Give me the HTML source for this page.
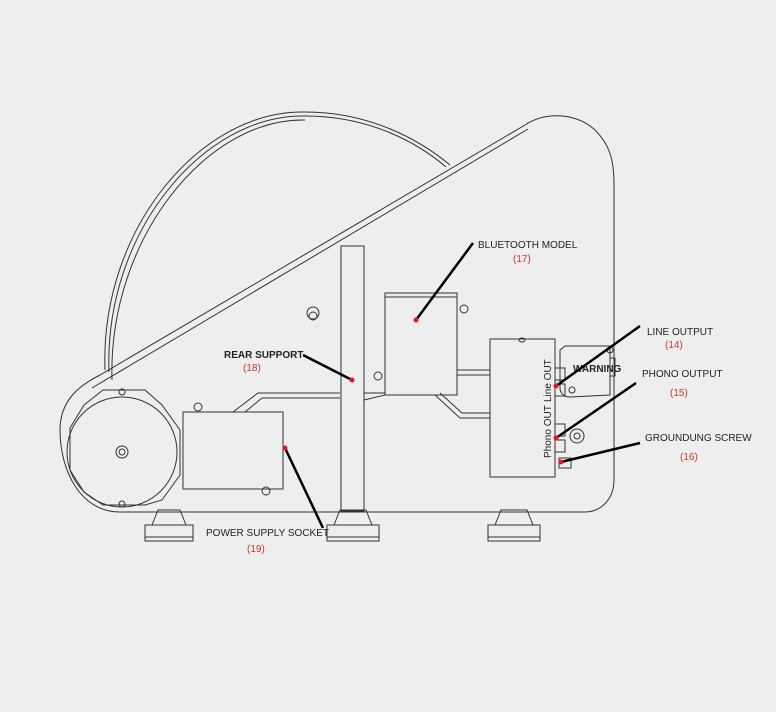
<!DOCTYPE html>
<html><head><meta charset="utf-8"><style>
html,body{margin:0;padding:0;background:#eeeeee;}
svg{display:block}
text{font-family:"Liberation Sans",sans-serif;font-size:10px;fill:#222}
.r{fill:#c0392b}
</style></head><body>
<svg width="776" height="712" viewBox="0 0 776 712" xmlns="http://www.w3.org/2000/svg">
<rect width="776" height="712" fill="#eeeeee"/>
<g fill="none" stroke="#333" stroke-width="1">
<path d="M105 370 C100 230 200 110 305 112 C370 112 420 140 450 165"/>
<path d="M109 372 C104 232 204 114 305 116 C370 116 418 143 446 167"/>
<path d="M112 380 C108 240 206 118 305 120"/>
<path d="M60 430 C60 400 80 385 100 375 L525 125 C545 112 575 112 595 130 C610 145 614 160 614 185 L614 480 C614 500 600 512 585 512 L120 512 C80 512 60 470 60 430 Z"/>
<path d="M92 388 L528 129"/>
<path d="M84 405 L103 390 L145 390 L162 405 L180 430 L180 475 L162 500 L145 505 L103 505 L84 492 L70 470 L70 428 Z"/>
<circle cx="122" cy="452" r="55"/>
<circle cx="122" cy="452" r="6"/><circle cx="122" cy="452" r="3"/>
<circle cx="122" cy="392" r="3"/><circle cx="122" cy="504" r="3"/>
<rect x="183" y="412" width="100" height="77"/>
<circle cx="198" cy="407" r="4"/><circle cx="266" cy="491" r="4"/>
<path d="M233 412 L258 393 L340 393 M245 412 L262 398 L340 398"/>
<rect x="341" y="246" width="23" height="265"/>
<path d="M364 393 L385 393 M364 400 L385 395 M457 370 L490 370 M457 375 L490 375 M435 395 L460 418 L490 418 M440 393 L462 413 L490 413"/>
<circle cx="378" cy="376" r="4"/>
<rect x="385" y="293" width="72" height="102"/>
<path d="M385 297 L457 297"/>
<circle cx="464" cy="309" r="4"/>
<circle cx="313" cy="313" r="6"/><circle cx="313" cy="316" r="4"/>
<rect x="490" y="339" width="65" height="138"/>
<ellipse cx="522" cy="340" rx="3" ry="2"/>
<path d="M565 346 L610 346 L610 395 L570 397 C563 397 560 392 560 388 L560 350 Z"/>
<rect x="610" y="358" width="5" height="18"/>
<circle cx="572" cy="390" r="3"/><circle cx="610" cy="350" r="3"/>
<rect x="555" y="368" width="10" height="12"/><rect x="555" y="384" width="10" height="12"/>
<rect x="555" y="424" width="10" height="12"/><rect x="555" y="440" width="10" height="12"/>
<circle cx="577" cy="436" r="7"/><circle cx="577" cy="436" r="3"/>
<rect x="559" y="458" width="12" height="10"/>
<rect x="145" y="525" width="48" height="16"/><path d="M145 537 L193 537 M152 525 L158 510 L180 510 L186 525"/>
<rect x="327" y="525" width="52" height="16"/><path d="M327 537 L379 537 M334 525 L340 510 L366 510 L372 525"/>
<rect x="488" y="525" width="52" height="16"/><path d="M488 537 L540 537 M495 525 L501 510 L527 510 L533 525"/>
</g>
<text x="573" y="372" font-size="6" font-weight="bold">WARNING</text>
<text transform="translate(551,402) rotate(-90)" font-size="7">Line OUT</text>
<text transform="translate(551,458) rotate(-90)" font-size="7">Phono OUT</text>
<g stroke="#000" stroke-width="2.5" fill="none">
<path d="M473 243 L416 320"/>
<path d="M303 355 L352 380"/>
<path d="M285 448 L323 528"/>
<path d="M640 326 L556 386"/>
<path d="M636 383 L556 438"/>
<path d="M640 443 L561 462"/>
</g>
<g fill="#e8141e">
<circle cx="416" cy="320" r="2.5"/><circle cx="352" cy="380" r="2.5"/><circle cx="285" cy="448" r="2.5"/>
<circle cx="556" cy="386" r="2.5"/><circle cx="556" cy="438" r="2.5"/><circle cx="561" cy="462" r="2.5"/>
</g>
<text x="478" y="248">BLUETOOTH MODEL</text><text x="513" y="262" class="r">(17)</text>
<text x="224" y="358" font-weight="bold" font-size="9">REAR SUPPORT</text><text x="243" y="371" class="r">(18)</text>
<text x="206" y="536" font-size="9">POWER SUPPLY SOCKET</text><text x="247" y="552" class="r">(19)</text>
<text x="647" y="335">LINE OUTPUT</text><text x="665" y="348" class="r">(14)</text>
<text x="642" y="377">PHONO OUTPUT</text><text x="670" y="396" class="r">(15)</text>
<text x="645" y="441">GROUNDUNG SCREW</text><text x="680" y="460" class="r">(16)</text>
</svg>
</body></html>
